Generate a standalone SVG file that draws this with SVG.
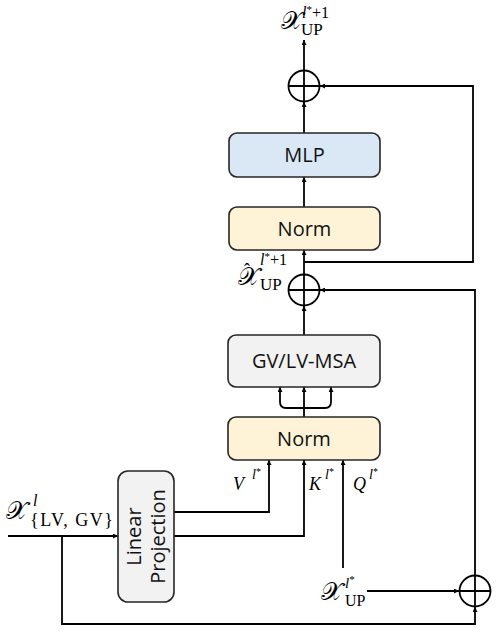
<svg xmlns="http://www.w3.org/2000/svg" width="498" height="637" viewBox="0 0 498 637">
<style>
.box{stroke:#262626;stroke-width:1.6}
.lbl{font-family:"Open Sans","Noto Sans",sans-serif;font-size:20px;fill:#111;text-anchor:middle}
.m{font-family:"Liberation Serif","DejaVu Serif",serif;fill:#000}
.cal{font-family:"DejaVu Serif","Noto Sans","DejaVu Sans",serif;font-size:25px}
.it{font-style:italic}
.w{fill:none;stroke:#000;stroke-width:1.8}
.pl{fill:#fff;stroke:#000;stroke-width:1.8}
</style>
<defs>
<marker id="ah" viewBox="0 0 10 10" refX="10" refY="5" markerWidth="5" markerHeight="5" markerUnits="userSpaceOnUse" orient="auto">
<path d="M0,0 L10,5 L0,10 z" fill="#000"/>
</marker>
</defs>
<rect width="498" height="637" fill="#fff"/>
<g id="connectors">
<path class="w" d="M304,70 V40" marker-end="url(#ah)"/>
<path class="w" d="M304,133 V102" marker-end="url(#ah)"/>
<path class="w" d="M304,207 V177" marker-end="url(#ah)"/>
<path class="w" d="M304,274 V250" marker-end="url(#ah)"/>
<path class="w" d="M304,262 H473 V86 H320" marker-end="url(#ah)"/>
<path class="w" d="M304,335 V306" marker-end="url(#ah)"/>
<path class="w" d="M304,417 V387" marker-end="url(#ah)"/>
<path class="w" d="M304,408 H286 Q280,408 280,402 V387" marker-end="url(#ah)"/>
<path class="w" d="M304,408 H325 Q331,408 331,402 V387" marker-end="url(#ah)"/>
<path class="w" d="M174,512 H269 V460" marker-end="url(#ah)"/>
<path class="w" d="M174,536 H304 V460" marker-end="url(#ah)"/>
<path class="w" d="M343,568 V460" marker-end="url(#ah)"/>
<path class="w" d="M8,536 H118" marker-end="url(#ah)"/>
<path class="w" d="M62,536 V624 H475 V607" marker-end="url(#ah)"/>
<path class="w" d="M367,591 H459" marker-end="url(#ah)"/>
<path class="w" d="M475,575 V290 H320" marker-end="url(#ah)"/>
</g>
<g id="plus-top"><circle class="pl" cx="304" cy="86" r="15.5"/><path class="w" d="M288.5,86 H319.5 M304,70.5 V101.5"/></g>
<g id="plus-mid"><circle class="pl" cx="304" cy="290" r="15.5"/><path class="w" d="M288.5,290 H319.5 M304,274.5 V305.5"/></g>
<g id="plus-bot"><circle class="pl" cx="475" cy="591" r="15.5"/><path class="w" d="M459.5,591 H490.5 M475,575.5 V606.5"/></g>
<g id="mlp"><rect class="box" x="229" y="133" width="151" height="44" rx="8" fill="#DAE8F5"/><text class="lbl" x="304.5" y="162">MLP</text></g>
<g id="norm-top"><rect class="box" x="229" y="207" width="151" height="43" rx="8" fill="#FEF3D7"/><text class="lbl" x="304.5" y="236">Norm</text></g>
<g id="msa"><rect class="box" x="228" y="335" width="152" height="52" rx="8" fill="#F2F2F2"/><text class="lbl" x="304" y="368">GV/LV-MSA</text></g>
<g id="norm-bot"><rect class="box" x="228" y="417" width="152" height="43" rx="8" fill="#FEF3D7"/><text class="lbl" x="304" y="446">Norm</text></g>
<g id="linproj"><rect class="box" x="118" y="471" width="56" height="131" rx="10" fill="#F2F2F2"/>
<text class="lbl" transform="translate(146,536.5) rotate(-90)"><tspan x="0" y="-5">Linear</tspan><tspan x="0" y="19">Projection</tspan></text></g>
<g id="labels">
<g id="lbl-out"><text class="m cal" x="281" y="29">𝒳</text><text class="m" x="302" y="18" font-size="16"><tspan class="it">l</tspan><tspan font-size="11" dy="-5">*</tspan><tspan dy="5">+1</tspan></text><text class="m" x="301" y="35" font-size="17">UP</text></g>
<g id="lbl-hat"><text class="m cal" x="238" y="285">𝒳</text><text class="m" x="244" y="276" font-size="18">ˆ</text><text class="m" x="260" y="265" font-size="16"><tspan class="it">l</tspan><tspan font-size="11" dy="-5">*</tspan><tspan dy="5">+1</tspan></text><text class="m" x="260" y="290" font-size="17">UP</text></g>
<g id="lbl-in"><text class="m cal" x="6" y="519">𝒳</text><text class="m it" x="33" y="506" font-size="16">l</text><text class="m" x="30" y="526" font-size="18" textLength="83" lengthAdjust="spacing">{LV, GV}</text></g>
<g id="lbl-v"><text class="m it" x="233" y="490" font-size="18">V</text><text class="m" x="252" y="479" font-size="14"><tspan class="it">l</tspan><tspan font-size="10" dy="-4">*</tspan></text></g>
<g id="lbl-k"><text class="m it" x="309" y="490" font-size="18">K</text><text class="m" x="325" y="479" font-size="14"><tspan class="it">l</tspan><tspan font-size="10" dy="-4">*</tspan></text></g>
<g id="lbl-q"><text class="m it" x="353" y="490" font-size="18">Q</text><text class="m" x="369" y="479" font-size="14"><tspan class="it">l</tspan><tspan font-size="10" dy="-4">*</tspan></text></g>
<g id="lbl-xup"><text class="m cal" x="321" y="600">𝒳</text><text class="m" x="345" y="588" font-size="15"><tspan class="it">l</tspan><tspan font-size="11" dy="-5">*</tspan></text><text class="m" x="345" y="606" font-size="16">UP</text></g>
</g>
</svg>
